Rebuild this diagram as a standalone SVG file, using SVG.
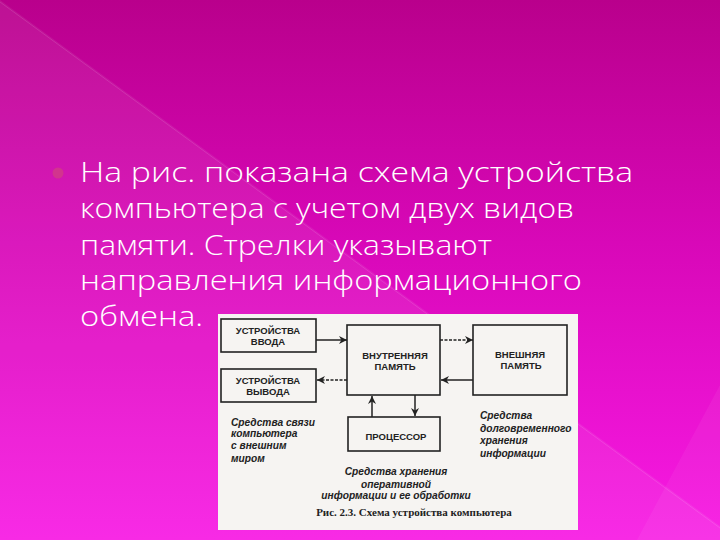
<svg xmlns="http://www.w3.org/2000/svg" width="720" height="540" viewBox="0 0 720 540">
<defs>
<linearGradient id="bg" x1="0" y1="0" x2="0" y2="1">
<stop offset="0" stop-color="#b9008c"/>
<stop offset="0.45" stop-color="#d808b8"/>
<stop offset="1" stop-color="#f81ae4"/>
</linearGradient>
<marker id="ah" viewBox="0 0 10 10" refX="10" refY="5" markerWidth="8" markerHeight="8" markerUnits="userSpaceOnUse" orient="auto">
<path d="M0,0 L10,5 L0,10 L3,5 Z" fill="#222"/>
</marker>
<style>
.body{font-family:"Open Sans","Noto Sans","DejaVu Sans",sans-serif;font-weight:300;font-size:27px;fill:#ffffff}
.box{fill:#f6f4f2;stroke:#222;stroke-width:1.6}
.cap{font-family:"Liberation Sans","DejaVu Sans",sans-serif;font-weight:bold;font-size:9.5px;fill:#222;text-anchor:middle}
.it{font-family:"Liberation Sans","DejaVu Sans",sans-serif;font-style:italic;font-weight:bold;font-size:10.2px;fill:#222}
.fig{font-family:"Liberation Serif","DejaVu Serif",serif;font-weight:bold;font-size:11px;fill:#222;text-anchor:middle}
.ln{stroke:#222;stroke-width:1.5;fill:none}
.dash{stroke-dasharray:3,1.5}
</style>
</defs>
<rect width="720" height="540" fill="url(#bg)"/>
<polygon points="0,0 720,526 720,540 0,540" fill="#ffffff" opacity="0.07"/>
<polygon points="720,385 637,540 720,540" fill="#ffffff" opacity="0.05"/>
<line x1="0" y1="2" x2="720" y2="528" stroke="#ffffff" stroke-opacity="0.12" stroke-width="1"/>

<g id="bullet">
<circle cx="58" cy="173" r="5.5" fill="#d23c86" opacity="0.8"/>
</g>
<g id="body-text" class="body">
<text x="80" y="182" textLength="553" lengthAdjust="spacingAndGlyphs">На рис. показана схема устройства</text>
<text x="80" y="218" textLength="494" lengthAdjust="spacingAndGlyphs">компьютера с учетом двух видов</text>
<text x="80" y="255" textLength="412" lengthAdjust="spacingAndGlyphs">памяти. Стрелки указывают</text>
<text x="80" y="290" textLength="502" lengthAdjust="spacingAndGlyphs">направления информационного</text>
<text x="80" y="326" textLength="123" lengthAdjust="spacingAndGlyphs">обмена.</text>
</g>

<g id="figure">
<rect x="218" y="314" width="360" height="216" fill="#f6f4f2"/>
</g>

<g id="input">
<rect class="box" x="221" y="319" width="95" height="33"/>
<text class="cap" x="268" y="334">УСТРОЙСТВА</text>
<text class="cap" x="268" y="345">ВВОДА</text>
</g>
<g id="output">
<rect class="box" x="221" y="369" width="95" height="33"/>
<text class="cap" x="268" y="384">УСТРОЙСТВА</text>
<text class="cap" x="268" y="395">ВЫВОДА</text>
</g>
<g id="internal">
<rect class="box" x="347" y="325" width="93" height="70"/>
<text class="cap" x="395" y="359">ВНУТРЕННЯЯ</text>
<text class="cap" x="395" y="370">ПАМЯТЬ</text>
</g>
<g id="external">
<rect class="box" x="473" y="325" width="94" height="70"/>
<text class="cap" x="520" y="358">ВНЕШНЯЯ</text>
<text class="cap" x="521" y="369">ПАМЯТЬ</text>
</g>
<g id="cpu">
<rect class="box" x="348" y="417" width="92" height="34"/>
<text class="cap" x="396" y="440">ПРОЦЕССОР</text>
</g>

<g id="connectors">
<line class="ln" x1="316" y1="340" x2="347" y2="340" marker-end="url(#ah)"/>
<line class="ln dash" x1="347" y1="380" x2="317" y2="380" marker-end="url(#ah)"/>
<line class="ln dash" x1="440" y1="340" x2="473" y2="340" marker-end="url(#ah)"/>
<line class="ln" x1="473" y1="380" x2="441" y2="380" marker-end="url(#ah)"/>
<line class="ln" x1="372" y1="417" x2="372" y2="396" marker-end="url(#ah)"/>
<line class="ln" x1="415" y1="395" x2="415" y2="416" marker-end="url(#ah)"/>
</g>

<g id="labels">
<text class="it" x="231" y="426">Средства связи</text>
<text class="it" x="231" y="437">компьютера</text>
<text class="it" x="231" y="449">с внешним</text>
<text class="it" x="231" y="462">миром</text>
<text class="it" x="480" y="419">Средства</text>
<text class="it" x="480" y="432">долговременного</text>
<text class="it" x="480" y="444">хранения</text>
<text class="it" x="480" y="457">информации</text>
<text class="it" x="396" y="475" text-anchor="middle">Средства хранения</text>
<text class="it" x="396" y="488" text-anchor="middle">оперативной</text>
<text class="it" x="396" y="499" text-anchor="middle">информации и ее обработки</text>
<text class="fig" x="414" y="516">Рис. 2.3. Схема устройства компьютера</text>
</g>
</svg>
